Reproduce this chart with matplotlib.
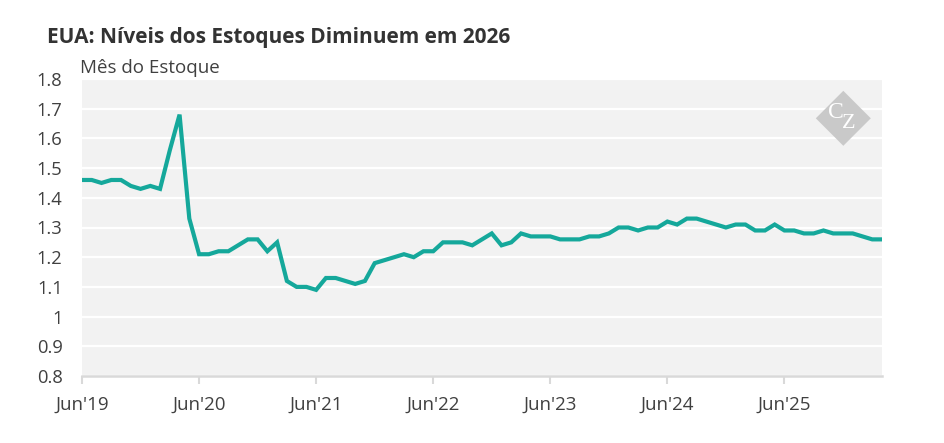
import matplotlib
matplotlib.use("Agg")
import matplotlib.pyplot as plt
from matplotlib.patches import Polygon

# ---- data ----
months = ["Jun'19","Jul'19","Aug'19","Sep'19","Oct'19","Nov'19","Dec'19",
          "Jan'20","Feb'20","Mar'20","Apr'20","May'20","Jun'20","Jul'20","Aug'20","Sep'20","Oct'20","Nov'20","Dec'20",
          "Jan'21","Feb'21","Mar'21","Apr'21","May'21","Jun'21","Jul'21","Aug'21","Sep'21","Oct'21","Nov'21","Dec'21",
          "Jan'22","Feb'22","Mar'22","Apr'22","May'22","Jun'22","Jul'22","Aug'22","Sep'22","Oct'22","Nov'22","Dec'22",
          "Jan'23","Feb'23","Mar'23","Apr'23","May'23","Jun'23","Jul'23","Aug'23","Sep'23","Oct'23","Nov'23","Dec'23",
          "Jan'24","Feb'24","Mar'24","Apr'24","May'24","Jun'24","Jul'24","Aug'24","Sep'24","Oct'24","Nov'24","Dec'24",
          "Jan'25","Feb'25","Mar'25","Apr'25","May'25","Jun'25","Jul'25","Aug'25","Sep'25","Oct'25","Nov'25","Dec'25",
          "Jan'26","Feb'26","Mar'26","Apr'26"]
stock_months = [1.46, 1.46, 1.45, 1.46, 1.46, 1.44, 1.43,
                1.44, 1.43, 1.56, 1.68, 1.33, 1.21, 1.21, 1.22, 1.22, 1.24, 1.26, 1.26,
                1.22, 1.25, 1.12, 1.10, 1.10, 1.09, 1.13, 1.13, 1.12, 1.11, 1.12, 1.18,
                1.19, 1.20, 1.21, 1.20, 1.22, 1.22, 1.25, 1.25, 1.25, 1.24, 1.26, 1.28,
                1.24, 1.25, 1.28, 1.27, 1.27, 1.27, 1.26, 1.26, 1.26, 1.27, 1.27, 1.28,
                1.30, 1.30, 1.29, 1.30, 1.30, 1.32, 1.31, 1.33, 1.33, 1.32, 1.31, 1.30,
                1.31, 1.31, 1.29, 1.29, 1.31, 1.29, 1.29, 1.28, 1.28, 1.29, 1.28, 1.28,
                1.28, 1.27, 1.26, 1.26]
xtick_labels = ["Jun'19", "Jun'20", "Jun'21", "Jun'22", "Jun'23", "Jun'24", "Jun'25"]
ytick_values = [0.8, 0.9, 1.0, 1.1, 1.2, 1.3, 1.4, 1.5, 1.6, 1.7, 1.8]
ytick_labels = ["0.8", "0.9", "1", "1.1", "1.2", "1.3", "1.4", "1.5", "1.6", "1.7", "1.8"]

title = "EUA: Níveis dos Estoques Diminuem em 2026"
ylabel = "Mês do Estoque"

plt.rcParams['font.family'] = ['Open Sans', 'DejaVu Sans']

fig = plt.figure(figsize=(9.45, 4.43), dpi=100)
ax = fig.add_axes([82/945, 1 - 376/443, 800/945, 297/443])
ax.set_facecolor('#f2f2f2')

x = list(range(len(stock_months)))
ax.plot(x, stock_months, color='#15a89b', lw=3, solid_joinstyle='miter', zorder=3)

ax.set_xlim(0, len(stock_months) - 1)
ax.set_ylim(0.8, 1.8)
ax.set_xticks([months.index(l) for l in xtick_labels])
ax.set_xticklabels(xtick_labels)
ax.set_yticks(ytick_values)
ax.set_yticklabels(ytick_labels)

ax.grid(axis='y', color='white', lw=1.6, zorder=1)
ax.set_axisbelow(True)
for s in ['top', 'right', 'left']:
    ax.spines[s].set_visible(False)
ax.spines['bottom'].set_color('#d9d9d9')
ax.spines['bottom'].set_linewidth(1.8)

ax.tick_params(axis='x', length=6, width=1.5, color='#d9d9d9', pad=8,
               labelsize=13.5, labelcolor='#404040')
ax.tick_params(axis='y', length=0, pad=14, labelsize=13.2, labelcolor='#404040')

fig.text(47/945, 1 - 38/443, title, fontsize=15, fontweight='bold',
         color='#333333', va='center', ha='left')
fig.text(80/945, 1 - 68/443, ylabel, fontsize=13.5, color='#404040',
         va='center', ha='left')

# logo
cx, cy, r = 843.3, 443 - 118.3, 27.5
diamond = Polygon([((cx)/945, (cy + r)/443), ((cx + r)/945, cy/443),
                   (cx/945, (cy - r)/443), ((cx - r)/945, cy/443)],
                  closed=True, transform=fig.transFigure, facecolor='#c9c9c9',
                  edgecolor='none', zorder=5)
fig.patches.append(diamond)
fig.text(836/945, 1 - 112/443, "C", fontsize=17, color='white',
         family='Liberation Serif', ha='center', va='center', zorder=6)
fig.text(849/945, 1 - 124/443, "Z", fontsize=16, color='white',
         family='Liberation Serif', ha='center', va='center', zorder=6)

fig.savefig('out.png', dpi=100)
